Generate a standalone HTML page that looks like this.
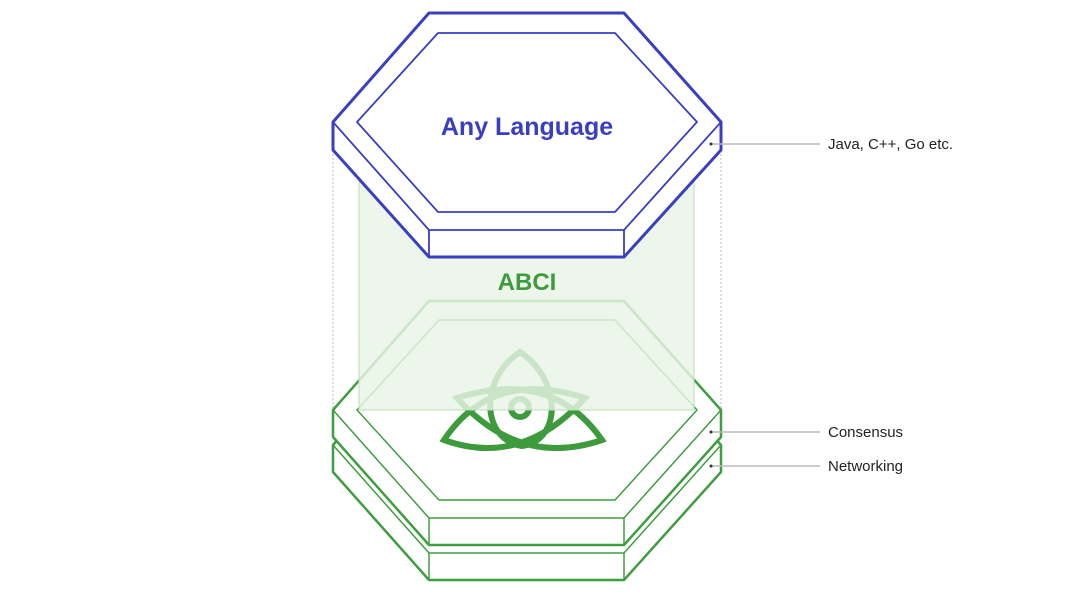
<!DOCTYPE html>
<html><head><style>
html,body{margin:0;padding:0;background:#fff;}
svg{display:block}
</style></head><body>
<svg width="1080" height="610" viewBox="0 0 1080 610" xmlns="http://www.w3.org/2000/svg">
<!-- bottom layer 2 -->
<g fill="#fff" stroke="#3f9e3f" stroke-width="2.5" stroke-linejoin="round">
<polygon points="333,445 429,336 624,336 721,445 721,472 624,580 429,580 333,472"/>
<polyline fill="none" stroke-width="1.5" points="333,445 429,553 624,553 721,445"/>
<line x1="429" y1="553" x2="429" y2="580" stroke-width="1.5"/>
<line x1="624" y1="553" x2="624" y2="580" stroke-width="1.5"/>
<!-- bottom layer 1 -->
<polygon points="333,410 429,301 624,301 721,410 721,437 624,545 429,545 333,437"/>
<polyline fill="none" stroke-width="1.5" points="333,410 429,518 624,518 721,410"/>
<line x1="429" y1="518" x2="429" y2="545" stroke-width="1.5"/>
<line x1="624" y1="518" x2="624" y2="545" stroke-width="1.5"/>
<polygon fill="none" stroke-width="1.5" points="357,410 439,320 615,320 697,410 615,500 439,500"/>
</g>
<!-- logo -->
<g fill="none" stroke="#3d9b3d" stroke-width="6" stroke-linecap="round">
<path d="M520,352 C478,380 482,440 522,446 C562,440 562,380 520,352Z"/>
<path d="M444,440 Q492,368 585,398 Q522,468 444,440Z"/>
<path d="M602,440 Q552,368 457,398 Q520,468 602,440Z"/>
<circle cx="520" cy="408" r="9" stroke-width="6"/>
</g>
<!-- ABCI overlay -->
<rect x="359" y="180" width="335" height="230" fill="#e9f4e6" fill-opacity="0.82" stroke="#bcdcb6" stroke-width="1"/>
<line x1="333" y1="150" x2="333" y2="410" stroke="#bbb" stroke-width="1" stroke-dasharray="2,2"/>
<line x1="721" y1="150" x2="721" y2="410" stroke="#bbb" stroke-width="1" stroke-dasharray="2,2"/>
<text x="527" y="290" text-anchor="middle" font-family="Liberation Sans, sans-serif" font-weight="bold" font-size="24" fill="#3d9b3d">ABCI</text>
<!-- top hex -->
<g fill="#fff" stroke="#3a3fc0" stroke-linejoin="round">
<polygon stroke-width="3" points="333,122 429,13 624,13 721,122 721,150 624,257 429,257 333,150"/>
<polyline fill="none" stroke-width="1.8" points="333,122 429,230 624,230 721,122"/>
<line x1="429" y1="230" x2="429" y2="257" stroke-width="1.8"/>
<line x1="624" y1="230" x2="624" y2="257" stroke-width="1.8"/>
<polygon fill="none" stroke-width="1.8" points="357,122 438,33 615,33 697,122 615,212 438,212"/>
</g>
<text x="527" y="135" text-anchor="middle" font-family="Liberation Sans, sans-serif" font-weight="bold" font-size="25" fill="#3a3fc0">Any Language</text>
<!-- labels -->
<g stroke="#bbb" stroke-width="1.5">
<line x1="711" y1="144" x2="820" y2="144"/>
<line x1="711" y1="432" x2="820" y2="432"/>
<line x1="711" y1="466" x2="820" y2="466"/>
</g>
<g fill="#333"><circle cx="711" cy="144" r="1.5"/><circle cx="711" cy="432" r="1.5"/><circle cx="711" cy="466" r="1.5"/></g>
<g font-family="Liberation Sans, sans-serif" font-size="15" fill="#222">
<text x="828" y="149">Java, C++, Go etc.</text>
<text x="828" y="437">Consensus</text>
<text x="828" y="471">Networking</text>
</g>
</svg>
</body></html>
